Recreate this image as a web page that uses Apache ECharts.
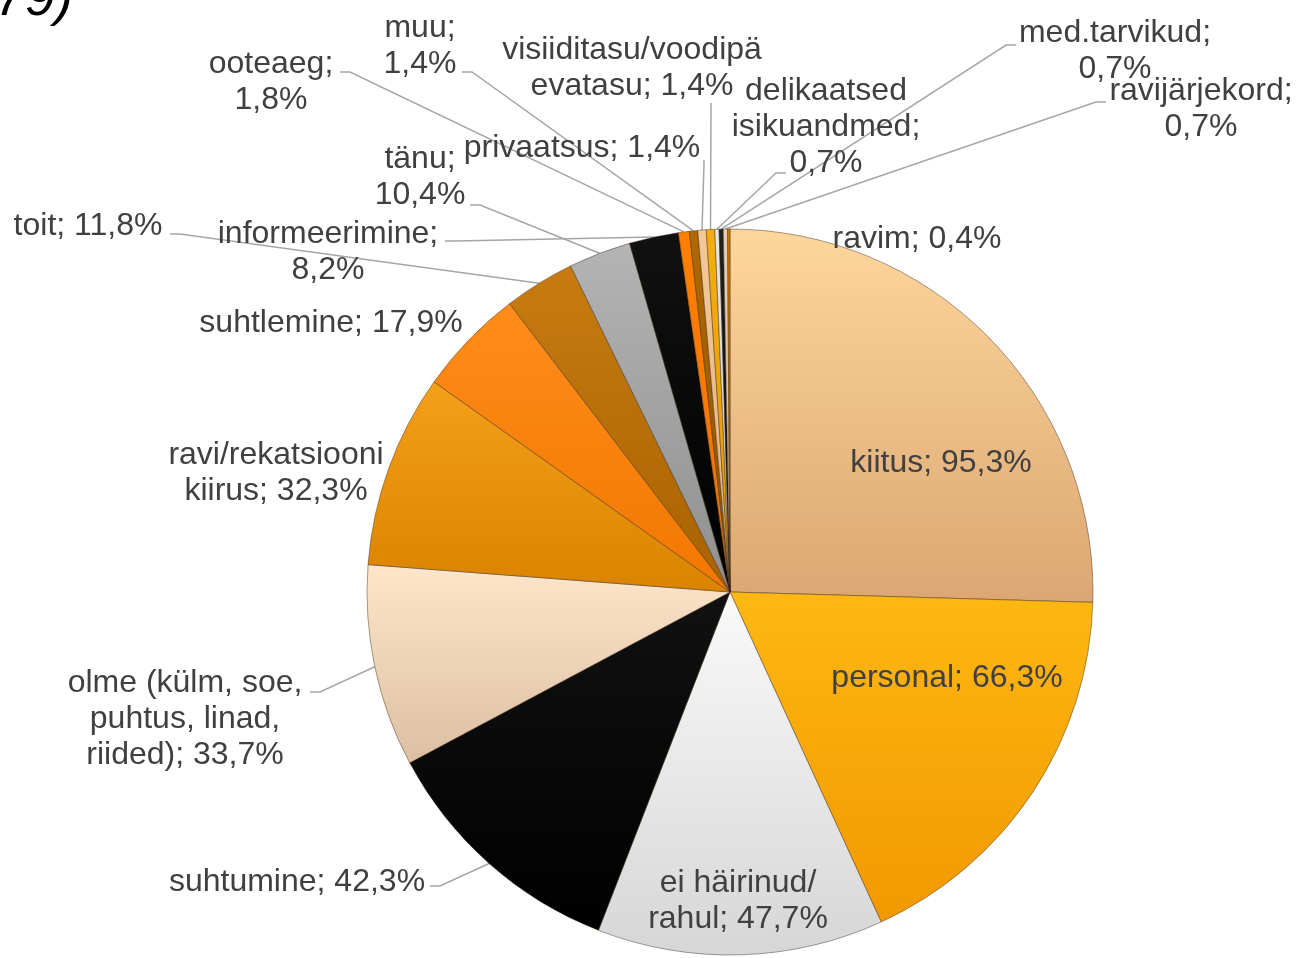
<!DOCTYPE html>
<html>
<head>
<meta charset="utf-8">
<script src="https://cdn.jsdelivr.net/npm/echarts@6/dist/echarts.min.js"></script>
<style>
  html, body { margin: 0; padding: 0; background: #fff; }
  #chart { width: 1297px; height: 958px; }
</style>
</head>
<body>
<div id="chart"></div>
<script>
// categories (wrapped the way the labels wrap) and their shares, clockwise from 12 o'clock
const categories = [
  'kiitus', 'personal', 'ei häirinud/\nrahul', 'suhtumine',
  'olme (külm, soe,\npuhtus, linad,\nriided)', 'ravi/rekatsiooni\nkiirus',
  'suhtlemine', 'toit', 'tänu', 'informeerimine', 'ooteaeg', 'muu',
  'privaatsus', 'visiiditasu/voodipä\nevatasu', 'delikaatsed\nisikuandmed',
  'med.tarvikud', 'ravijärjekord', 'ravim'
]
const values = [95.3, 66.3, 47.7, 42.3, 33.7, 32.3, 17.9, 11.8, 10.4, 8.2, 1.8, 1.4, 1.4, 1.4, 0.7, 0.7, 0.7, 0.4]

const sliceTop = ['#fed69c', '#fdb813', '#fafafa', '#111111', '#fee6cb', '#f5a01a', '#ff8c1a', '#c77b12', '#b4b4b4',
  '#111111', '#ff8000', '#b06800', '#f3c898', '#f5ae10', '#e8e8e8', '#222222', '#e6cfb5', '#d07a00']
const sliceBottom = ['#dba673', '#f29800', '#d6d6d6', '#000000', '#dcbfa3', '#d98300', '#f27700', '#a96200', '#8f8f8f',
  '#000000', '#f07000', '#8f5400', '#e0b07c', '#e09800', '#cccccc', '#000000', '#d4b898', '#b86600']

// where each label sits (centre of text block), where its leader line ends, separator
const labelSpots = [
  { c: [941, 463] },
  { c: [947, 678] },
  { c: [738, 901] },
  { c: [297, 882], end: [430, 886] },
  { c: [185, 719], end: [310, 692] },
  { c: [276, 473] },
  { c: [331, 323] },
  { c: [88, 226], end: [170, 234] },
  { c: [420, 177], end: [470, 205], sep: ';\n' },
  { c: [328, 252], end: [445, 241], sep: ';\n' },
  { c: [271, 82], end: [340, 72], sep: ';\n' },
  { c: [420, 46], end: [462, 72], sep: ';\n' },
  { c: [582, 148], end: [704, 160] },
  { c: [632, 68], end: [711, 103] },
  { c: [826, 127], end: [786, 173], sep: ';\n' },
  { c: [1115, 51], end: [1016, 45], sep: ';\n' },
  { c: [1201, 109], end: [1106, 102], sep: ';\n' },
  { c: [917, 239], end: [830, 248], k: 0.93 }
]

const pieCenter = [730, 592]
const pieRadius = 363

const chart = echarts.init(document.getElementById('chart'))

const seriesData = categories.map((name, i) => ({
  name: name,
  value: values[i],
  itemStyle: {
    color: {
      type: 'linear', x: 0, y: 0, x2: 0, y2: 1,
      colorStops: [{ offset: 0, color: sliceTop[i] }, { offset: 1, color: sliceBottom[i] }]
    }
  },
  labelLine: { show: !!labelSpots[i].end }
}))

chart.setOption({
  animation: false,
  graphic: [{
    type: 'text',
    x: -5,
    y: 27,
    style: {
      text: '79)',
      fontFamily: 'Liberation Sans, Arial, sans-serif',
      fontStyle: 'italic',
      fontSize: 54,
      fill: '#000',
      verticalAlign: 'bottom'
    }
  }],
  series: [{
    type: 'pie',
    center: pieCenter,
    radius: pieRadius,
    startAngle: 90,
    clockwise: true,
    avoidLabelOverlap: false,
    itemStyle: {
      borderColor: 'rgba(60,40,20,0.45)',
      borderWidth: 1
    },
    label: {
      show: true,
      position: 'outside',
      fontFamily: 'Liberation Sans, Arial, sans-serif',
      fontSize: 32,
      lineHeight: 36,
      color: '#404040',
      formatter: function (p) {
        const sep = labelSpots[p.dataIndex].sep || '; '
        return p.name + sep + p.value.toFixed(1).replace('.', ',') + '%'
      }
    },
    labelLine: {
      show: true,
      lineStyle: { color: '#a6a6a6', width: 1.5 }
    },
    emphasis: { disabled: true },
    labelLayout: function (p) {
      const s = labelSpots[p.dataIndex]
      const out = { x: s.c[0], y: s.c[1], align: 'center', verticalAlign: 'middle' }
      if (s.end && p.labelLinePoints) {
        let a = p.labelLinePoints[0].slice()
        if (s.k) {
          a = [pieCenter[0] + (a[0] - pieCenter[0]) * s.k, pieCenter[1] + (a[1] - pieCenter[1]) * s.k]
        }
        let elbow
        if (Math.abs(a[0] - s.end[0]) < 15) {
          elbow = [s.end[0], s.end[1] + 4]
        } else {
          elbow = [s.end[0] + (a[0] > s.end[0] ? 10 : -10), s.end[1]]
        }
        out.labelLinePoints = [a, elbow, s.end]
      }
      return out
    },
    data: seriesData
  }]
})
</script>
</body>
</html>
